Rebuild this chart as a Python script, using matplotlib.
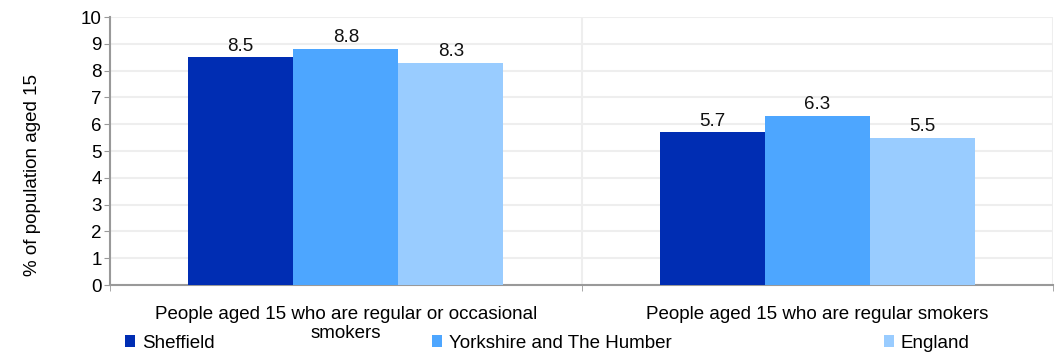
import numpy as np
import matplotlib.pyplot as plt
import matplotlib.transforms as mtransforms

plt.rcParams['font.family'] = ['Liberation Sans', 'DejaVu Sans']

categories = ["People aged 15 who are regular or occasional\nsmokers",
              "People aged 15 who are regular smokers"]
series = ["Sheffield", "Yorkshire and The Humber", "England"]
values = {
    "Sheffield": [8.5, 5.7],
    "Yorkshire and The Humber": [8.8, 6.3],
    "England": [8.3, 5.5],
}
colors = ["#002db3", "#4da6ff", "#99ccff"]
fs = 13.5

fig = plt.figure(figsize=(10.59, 3.54), dpi=100)
ax = fig.add_axes([110 / 1059, 1 - 285 / 354, (1053 - 110) / 1059, (285 - 17) / 354])

x = np.arange(len(categories))
w = 0.223
bars = []
for i, (name, col) in enumerate(zip(series, colors)):
    b = ax.bar(x + (i - 1) * w, values[name], w, color=col, label=name, zorder=3)
    bars.append(b)
    for xi, v in zip(x + (i - 1) * w, values[name]):
        ax.text(xi, v + 0.1, f"{v:.1f}", ha='center', va='bottom', fontsize=fs, color='#111111')

ax.set_xlim(-0.5, 1.5)
ax.set_ylim(0, 10)
ax.set_yticks(range(0, 11))
ax.tick_params(axis='y', labelsize=fs, colors='#999999', labelcolor='black', length=4, pad=2)

# category labels: first line as tick label, wrapped rest as separate text
ax.set_xticks(x)
ax.set_xticklabels([c.split("\n")[0] for c in categories], fontsize=fs)
ax.tick_params(axis='x', length=0, pad=15)
trans = mtransforms.blended_transform_factory(ax.transData, fig.transFigure)
for xi, c in zip(x, categories):
    rest = c.split("\n")[1:]
    if rest:
        ax.text(xi, 1 - 333 / 354, "\n".join(rest), transform=trans, ha='center', va='center',
                fontsize=fs)

ax.set_xticks([-0.5, 0.5, 1.5], minor=True)
ax.tick_params(axis='x', which='minor', direction='out', length=4, colors='#999999')
ax.set_ylabel("% of population aged 15", fontsize=fs)
ax.yaxis.set_label_coords(-0.073, 0.41)

ax.grid(axis='y', color='#eeeeee', linewidth=1.5, zorder=0)
ax.grid(axis='x', which='minor', color='#eeeeee', linewidth=1.5, zorder=0)
for s in ['top', 'right']:
    ax.spines[s].set_visible(False)
ax.spines['left'].set_color('#999999')
ax.spines['bottom'].set_color('#999999')
ax.spines['left'].set_linewidth(1.5)
ax.spines['bottom'].set_linewidth(1.5)

leg_x = [125 / 1059, 432 / 1059, 884 / 1059]
for b, name, lx in zip(bars, series, leg_x):
    fig.legend(handles=[b], labels=[name], loc='center left', bbox_to_anchor=(lx, 1 - 343 / 354),
               frameon=False, fontsize=fs, handlelength=0.55, handleheight=0.55,
               handletextpad=0.35, borderaxespad=0, borderpad=0)

fig.savefig("out.png", dpi=100)
